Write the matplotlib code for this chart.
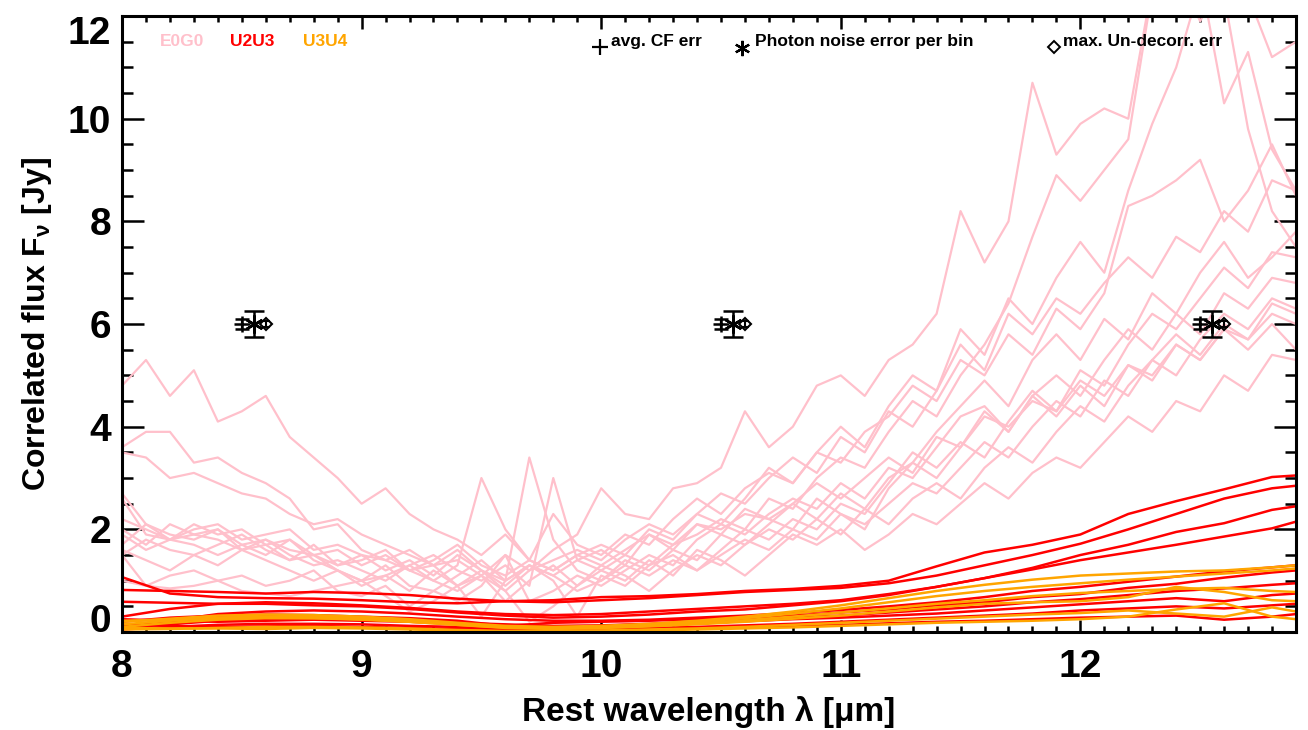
import matplotlib
matplotlib.use('Agg')
import matplotlib.pyplot as plt
from matplotlib.ticker import MultipleLocator

plt.rcParams['font.family'] = ['Liberation Sans', 'DejaVu Sans']
plt.rcParams['font.weight'] = 'bold'
plt.rcParams['axes.labelweight'] = 'bold'
plt.rcParams['mathtext.fontset'] = 'custom'
plt.rcParams['mathtext.rm'] = 'Liberation Sans:bold'
plt.rcParams['mathtext.it'] = 'Liberation Sans:bold'

# wavelength grids (micron)
wl_pink = [8.0, 8.1, 8.2, 8.3, 8.4, 8.5, 8.6, 8.7, 8.8, 8.9,
           9.0, 9.1, 9.2, 9.3, 9.4, 9.5, 9.6, 9.7, 9.8, 9.9,
           10.0, 10.1, 10.2, 10.3, 10.4, 10.5, 10.6, 10.7, 10.8, 10.9,
           11.0, 11.1, 11.2, 11.3, 11.4, 11.5, 11.6, 11.7, 11.8, 11.9,
           12.0, 12.1, 12.2, 12.3, 12.4, 12.5, 12.6, 12.7, 12.8, 12.9]
wl_smooth = [8.0, 8.2, 8.4, 8.6, 8.8, 9.0, 9.2, 9.4, 9.6, 9.8, 10.0, 10.2, 10.4,
             10.6, 10.8, 11.0, 11.2, 11.4, 11.6, 11.8, 12.0, 12.2, 12.4, 12.6, 12.8, 12.9]

# E0G0 baseline spectra (Jy)
e0g0_1 = [4.8, 5.3, 4.6, 5.1, 4.1, 4.3, 4.6, 3.8, 3.4, 3.0,
          2.5, 2.8, 2.3, 2.0, 1.8, 1.5, 1.9, 1.4, 1.2, 1.5,
          1.3, 1.6, 1.9, 1.7, 2.1, 2.0, 2.3, 2.2, 2.5, 2.9,
          2.6, 3.0, 3.4, 3.1, 3.8, 3.6, 4.2, 4.0, 4.5, 4.3,
          4.9, 4.6, 5.2, 5.0, 5.6, 5.3, 5.9, 5.7, 6.4, 6.2]
e0g0_2 = [3.6, 3.9, 3.9, 3.3, 3.4, 3.1, 2.9, 2.6, 2.0, 2.1,
          1.6, 1.4, 1.2, 1.3, 0.9, 1.1, 0.8, 1.2, 1.6, 1.9,
          2.8, 2.3, 2.2, 2.8, 2.9, 3.2, 4.3, 3.6, 4.0, 4.8,
          5.0, 4.6, 5.3, 5.6, 6.2, 8.2, 7.2, 8.0, 10.7, 9.3,
          9.9, 10.2, 10.0, 12.6, 12.9, 11.9, 12.8, 12.4, 11.2, 11.5]
e0g0_3 = [3.5, 3.4, 3.0, 3.1, 2.9, 2.7, 2.6, 2.3, 2.1, 2.2,
          1.9, 1.7, 1.5, 1.3, 1.6, 1.2, 1.0, 1.3, 1.1, 1.4,
          1.2, 1.5, 1.3, 1.7, 1.9, 2.2, 2.0, 2.6, 2.4, 3.0,
          3.4, 3.2, 3.9, 4.5, 4.2, 5.0, 5.6, 6.4, 7.7, 8.9,
          8.4, 9.0, 9.6, 12.5, 12.6, 12.8, 10.3, 11.3, 9.4, 8.6]
e0g0_4 = [2.6, 1.9, 1.8, 2.1, 1.9, 2.0, 1.7, 1.8, 1.5, 1.6,
          1.3, 1.5, 1.2, 1.0, 1.3, 3.0, 2.0, 1.4, 2.3, 1.7,
          1.5, 1.9, 1.7, 2.2, 2.6, 2.3, 2.8, 3.1, 2.9, 3.5,
          3.3, 3.9, 4.2, 4.8, 4.5, 5.3, 5.0, 5.8, 5.4, 6.3,
          5.9, 6.6, 8.3, 8.5, 8.8, 9.2, 8.0, 8.6, 9.5, 8.5]
e0g0_5 = [1.7, 2.1, 1.9, 1.8, 2.0, 1.7, 1.5, 1.8, 1.4, 1.2,
          1.0, 1.3, 0.9, 0.8, 1.1, 1.4, 1.0, 3.4, 1.8, 1.2,
          1.0, 1.4, 1.2, 1.6, 1.4, 1.9, 1.7, 2.1, 2.5, 2.2,
          2.7, 2.4, 3.0, 3.3, 3.9, 4.4, 4.9, 4.4, 5.3, 5.8,
          5.3, 6.1, 5.7, 6.6, 6.2, 7.0, 7.6, 6.9, 7.3, 7.8]
e0g0_6 = [1.5, 1.8, 1.6, 1.5, 1.7, 1.9, 1.6, 1.4, 1.7, 1.3,
          1.5, 1.2, 1.4, 1.1, 1.5, 1.2, 0.9, 1.3, 1.0, 0.3,
          1.1, 0.9, 1.3, 1.5, 1.2, 1.6, 2.0, 1.8, 2.2, 2.0,
          2.5, 2.3, 2.9, 3.5, 3.2, 3.7, 3.4, 4.1, 4.7, 4.3,
          5.1, 4.8, 5.6, 6.2, 5.9, 6.5, 7.1, 6.7, 7.4, 7.3]
e0g0_7 = [2.0, 1.7, 2.1, 1.9, 1.8, 1.6, 1.8, 1.5, 1.3, 1.4,
          1.2, 1.0, 1.3, 1.5, 1.2, 1.0, 1.3, 0.9, 3.0, 1.4,
          1.6, 1.3, 1.9, 1.6, 2.1, 1.9, 2.4, 2.2, 2.0, 2.6,
          2.3, 2.0, 2.8, 3.3, 3.0, 3.6, 4.3, 3.9, 4.6, 4.2,
          4.8, 4.4, 5.2, 4.9, 5.6, 5.3, 5.9, 5.5, 6.0, 5.5]
e0g0_8 = [1.0, 0.9, 1.1, 1.2, 1.0, 1.1, 0.9, 1.0, 1.2, 0.8,
          0.7, 0.9, 0.5, 0.8, 0.6, 0.9, 1.5, 0.6, 0.8, 1.1,
          0.9, 1.2, 1.5, 1.3, 1.8, 2.1, 1.9, 2.3, 2.6, 2.4,
          2.9, 2.6, 3.2, 3.0, 3.6, 4.2, 4.4, 3.9, 4.6, 5.0,
          4.6, 5.3, 5.9, 5.5, 6.2, 5.8, 6.6, 6.3, 6.9, 6.8]
e0g0_9 = [1.5, 0.9, 0.85, 0.9, 1.0, 0.8, 0.75, 0.7, 0.8, 0.9,
          1.0, 0.7, 0.4, 0.6, 0.9, 1.2, 0.8, 0.2, 0.5, 0.9,
          1.2, 1.0, 1.4, 1.1, 1.6, 1.4, 1.1, 1.5, 1.9, 1.7,
          2.0, 1.6, 1.9, 2.3, 2.1, 2.5, 2.9, 2.6, 3.1, 3.4,
          3.2, 3.7, 4.2, 3.9, 4.5, 4.3, 5.0, 4.7, 5.4, 5.3]
e0g0_10 = [2.2, 2.0, 1.8, 2.0, 2.1, 1.8, 1.9, 2.0, 1.6, 1.7,
           1.5, 1.4, 1.6, 1.3, 1.4, 1.1, 1.5, 1.2, 1.4, 1.6,
           1.4, 1.8, 2.1, 1.9, 2.3, 2.7, 2.5, 3.0, 3.4, 3.1,
           3.8, 3.5, 4.3, 4.0, 4.7, 5.6, 5.1, 6.2, 5.8, 6.5,
           6.2, 6.8, 7.3, 6.9, 7.7, 7.4, 8.2, 7.8, 8.8, 8.6]
e0g0_11 = [1.6, 1.4, 1.2, 1.5, 1.3, 1.6, 1.4, 1.2, 1.0, 1.2,
           0.9, 1.1, 1.3, 1.0, 0.8, 1.1, 0.6, 1.0, 1.3, 0.9,
           1.3, 1.1, 0.8, 1.2, 1.5, 1.3, 1.7, 2.0, 1.8, 2.2,
           1.9, 2.4, 2.1, 2.6, 2.9, 2.6, 3.2, 3.6, 3.3, 3.9,
           4.4, 4.1, 4.8, 5.3, 5.0, 5.7, 6.2, 5.9, 6.5, 6.3]
e0g0_12 = [1.9, 1.6, 1.8, 1.7, 1.5, 1.7, 1.8, 1.6, 1.5, 1.3,
           1.4, 1.6, 1.2, 1.4, 1.7, 1.3, 1.1, 1.4, 1.2, 1.5,
           1.7, 1.5, 2.0, 1.8, 2.3, 2.1, 2.6, 3.2, 2.9, 3.5,
           4.0, 3.6, 4.4, 5.0, 4.7, 5.9, 5.4, 6.5, 6.0, 6.9,
           7.6, 7.0, 8.6, 9.9, 11.0, 12.6, 12.4, 9.8, 8.2, 7.5]
e0g0_13 = [2.7, 2.1, 1.8, 1.9, 2.0, 1.6, 1.7, 1.4, 1.5, 1.2,
           1.0, 1.1, 0.8, 1.2, 0.9, 0.3, 1.0, 1.3, 1.1, 0.8,
           1.0, 1.3, 1.1, 1.4, 1.2, 1.5, 1.8, 1.6, 2.0, 1.8,
           2.3, 2.1, 2.5, 2.9, 2.7, 3.2, 3.7, 3.4, 4.0, 4.5,
           4.2, 4.9, 4.6, 5.3, 5.8, 5.4, 6.0, 5.7, 6.2, 6.0]

# U2U3 baseline spectra (Jy)
u2u3_1 = [0.82, 0.80, 0.78, 0.75, 0.78, 0.76, 0.72, 0.65, 0.60, 0.62, 0.68, 0.70, 0.74,
          0.80, 0.84, 0.90, 1.00, 1.28, 1.55, 1.70, 1.90, 2.30, 2.55, 2.78, 3.02, 3.05]
u2u3_2 = [1.07, 0.75, 0.68, 0.66, 0.65, 0.62, 0.58, 0.56, 0.60, 0.58, 0.62, 0.66, 0.72,
          0.78, 0.82, 0.86, 0.95, 1.10, 1.30, 1.50, 1.72, 2.00, 2.30, 2.60, 2.80, 2.85]
u2u3_3 = [0.59, 0.57, 0.55, 0.55, 0.52, 0.50, 0.45, 0.38, 0.32, 0.28, 0.30, 0.34, 0.40,
          0.44, 0.52, 0.60, 0.72, 0.88, 1.05, 1.25, 1.50, 1.70, 1.95, 2.12, 2.38, 2.45]
u2u3_4 = [0.30, 0.45, 0.55, 0.58, 0.56, 0.52, 0.47, 0.40, 0.35, 0.33, 0.35, 0.40, 0.45,
          0.50, 0.55, 0.62, 0.74, 0.88, 1.05, 1.22, 1.40, 1.55, 1.70, 1.86, 2.02, 2.15]
u2u3_5 = [0.12, 0.22, 0.35, 0.40, 0.42, 0.40, 0.36, 0.30, 0.25, 0.22, 0.22, 0.24, 0.28,
          0.32, 0.37, 0.43, 0.50, 0.58, 0.68, 0.80, 0.88, 0.98, 1.08, 1.18, 1.26, 1.30]
u2u3_6 = [0.20, 0.28, 0.32, 0.34, 0.33, 0.30, 0.27, 0.22, 0.12, 0.18, 0.20, 0.22, 0.25,
          0.28, 0.32, 0.38, 0.44, 0.52, 0.58, 0.68, 0.74, 0.86, 0.94, 1.06, 1.16, 1.20]
u2u3_7 = [0.08, 0.15, 0.22, 0.26, 0.27, 0.26, 0.22, 0.18, 0.15, 0.12, 0.13, 0.16, 0.20,
          0.24, 0.28, 0.32, 0.38, 0.44, 0.50, 0.58, 0.64, 0.72, 0.80, 0.85, 0.92, 0.95]
u2u3_8 = [0.25, 0.22, 0.20, 0.22, 0.24, 0.22, 0.20, 0.16, 0.10, 0.08, 0.12, 0.15, 0.18,
          0.21, 0.25, 0.28, 0.32, 0.36, 0.42, 0.48, 0.54, 0.60, 0.66, 0.60, 0.72, 0.75]
u2u3_9 = [0.05, 0.10, 0.14, 0.16, 0.16, 0.15, 0.12, 0.10, 0.06, 0.05, 0.06, 0.08, 0.10,
          0.13, 0.16, 0.20, 0.24, 0.28, 0.32, 0.36, 0.42, 0.46, 0.50, 0.46, 0.52, 0.55]
u2u3_10 = [0.15, 0.12, 0.10, 0.11, 0.12, 0.10, 0.08, 0.06, 0.04, 0.03, 0.04, 0.06, 0.08,
           0.10, 0.12, 0.14, 0.17, 0.20, 0.22, 0.25, 0.28, 0.30, 0.32, 0.24, 0.30, 0.35]

# U3U4 baseline spectra (Jy)
u3u4_1 = [0.20, 0.26, 0.32, 0.34, 0.33, 0.30, 0.25, 0.18, 0.12, 0.10, 0.12, 0.16, 0.22,
          0.30, 0.40, 0.52, 0.66, 0.80, 0.92, 1.02, 1.10, 1.14, 1.18, 1.20, 1.26, 1.30]
u3u4_2 = [0.15, 0.22, 0.28, 0.30, 0.30, 0.28, 0.23, 0.16, 0.10, 0.08, 0.10, 0.14, 0.20,
          0.27, 0.36, 0.46, 0.58, 0.70, 0.80, 0.88, 0.95, 1.02, 1.08, 1.14, 1.20, 1.24]
u3u4_3 = [0.10, 0.18, 0.24, 0.27, 0.27, 0.25, 0.20, 0.14, 0.08, 0.06, 0.08, 0.12, 0.17,
          0.23, 0.30, 0.38, 0.46, 0.55, 0.62, 0.70, 0.76, 0.80, 0.84, 0.86, 0.80, 0.78]
u3u4_4 = [0.22, 0.24, 0.27, 0.28, 0.27, 0.24, 0.20, 0.14, 0.09, 0.07, 0.08, 0.11, 0.15,
          0.20, 0.26, 0.32, 0.40, 0.48, 0.55, 0.58, 0.60, 0.68, 0.88, 0.78, 0.62, 0.60]
u3u4_5 = [0.05, 0.06, 0.08, 0.10, 0.10, 0.09, 0.07, 0.04, 0.02, 0.02, 0.03, 0.05, 0.07,
          0.10, 0.14, 0.18, 0.22, 0.26, 0.30, 0.34, 0.37, 0.42, 0.36, 0.30, 0.48, 0.40]
u3u4_6 = [0.08, 0.07, 0.07, 0.06, 0.08, 0.07, 0.05, 0.03, 0.01, 0.01, 0.02, 0.03, 0.05,
          0.07, 0.09, 0.12, 0.15, 0.18, 0.20, 0.22, 0.25, 0.30, 0.44, 0.56, 0.30, 0.25]

# error symbols
err_wl = [8.55, 10.55, 12.55]
err_level = 6.0
cf_err = 0.10
photon_err = 0.26
undecorr_err = 0.06

e0g0 = [e0g0_1, e0g0_2, e0g0_3, e0g0_4, e0g0_5, e0g0_6, e0g0_7,
        e0g0_8, e0g0_9, e0g0_10, e0g0_11, e0g0_12, e0g0_13]
u2u3 = [u2u3_1, u2u3_2, u2u3_3, u2u3_4, u2u3_5, u2u3_6, u2u3_7, u2u3_8, u2u3_9, u2u3_10]
u3u4 = [u3u4_1, u3u4_2, u3u4_3, u3u4_4, u3u4_5, u3u4_6]

fig = plt.figure(figsize=(13.08, 7.30), dpi=100)
ax = fig.add_axes([0.0933, 0.1342, 0.8975, 0.8438])

for spec in e0g0:
    ax.plot(wl_pink, spec, color='pink', lw=1.6)
for spec in u2u3:
    ax.plot(wl_smooth, spec, color='red', lw=1.8)
for spec in u3u4:
    ax.plot(wl_smooth, spec, color='orange', lw=1.8)

asterisk = (6, 2, 0)
for w in err_wl:
    ax.errorbar(w - 0.05, err_level, yerr=cf_err, fmt='+', ms=11, mew=1.8,
                color='k', ecolor='k', elinewidth=1.6, capsize=5, capthick=1.6)
    ax.errorbar(w, err_level, yerr=photon_err, fmt='none', color='k',
                elinewidth=1.8, capsize=7, capthick=1.8)
    ax.plot(w, err_level, marker=asterisk, ms=13, mew=1.8, color='k')
    ax.errorbar(w + 0.05, err_level, yerr=undecorr_err, fmt='D', ms=6, mfc='none',
                mec='k', mew=1.5, color='k', elinewidth=1.5, capsize=3)

ax.set_xlim(8, 12.9)
ax.set_ylim(0, 12)
ax.xaxis.set_major_locator(MultipleLocator(1))
ax.xaxis.set_minor_locator(MultipleLocator(0.1))
ax.yaxis.set_major_locator(MultipleLocator(2))
ax.yaxis.set_minor_locator(MultipleLocator(0.5))
ax.tick_params(axis='both', which='both', direction='in', top=True, right=True,
               width=1.8, labelsize=28)
ax.tick_params(axis='x', which='major', length=9, pad=12)
ax.tick_params(axis='x', which='minor', length=4.5)
ax.tick_params(axis='y', which='major', length=16, pad=8)
ax.tick_params(axis='y', which='minor', length=8)
for sp in ax.spines.values():
    sp.set_linewidth(2.2)

fig.canvas.draw()
for lab in ax.get_yticklabels():
    if lab.get_text() == '0':
        lab.set_va('baseline')
    elif lab.get_text() == '12':
        lab.set_va('top')

ax.set_xlabel('Rest wavelength λ [μm]', fontsize=24, labelpad=8)
ax.set_ylabel(r'Correlated flux F$_{\nu}$ [Jy]', fontsize=23, labelpad=10)

# legend texts
ax.text(0.0324, 0.958, 'E0G0', color='pink', fontsize=12.5, va='center', transform=ax.transAxes)
ax.text(0.092, 0.958, 'U2U3', color='red', fontsize=12.5, va='center', transform=ax.transAxes)
ax.text(0.154, 0.958, 'U3U4', color='orange', fontsize=12.5, va='center', transform=ax.transAxes)

ax.plot([0.407], [0.950], marker='+', ms=11, mew=1.6, color='k', transform=ax.transAxes, clip_on=False)
ax.text(0.4165, 0.958, 'avg. CF err', fontsize=12.5, va='center', transform=ax.transAxes)
ax.plot([0.528], [0.948], marker=asterisk, ms=11, mew=1.6, color='k', transform=ax.transAxes, clip_on=False)
ax.text(0.539, 0.958, 'Photon noise error per bin', fontsize=12.5, va='center', transform=ax.transAxes)
ax.plot([0.794], [0.950], marker='D', ms=6, mfc='none', mec='k', mew=1.4, transform=ax.transAxes, clip_on=False)
ax.text(0.8015, 0.958, 'max. Un-decorr. err', fontsize=12.5, va='center', transform=ax.transAxes)

fig.savefig('out.png', dpi=100)
